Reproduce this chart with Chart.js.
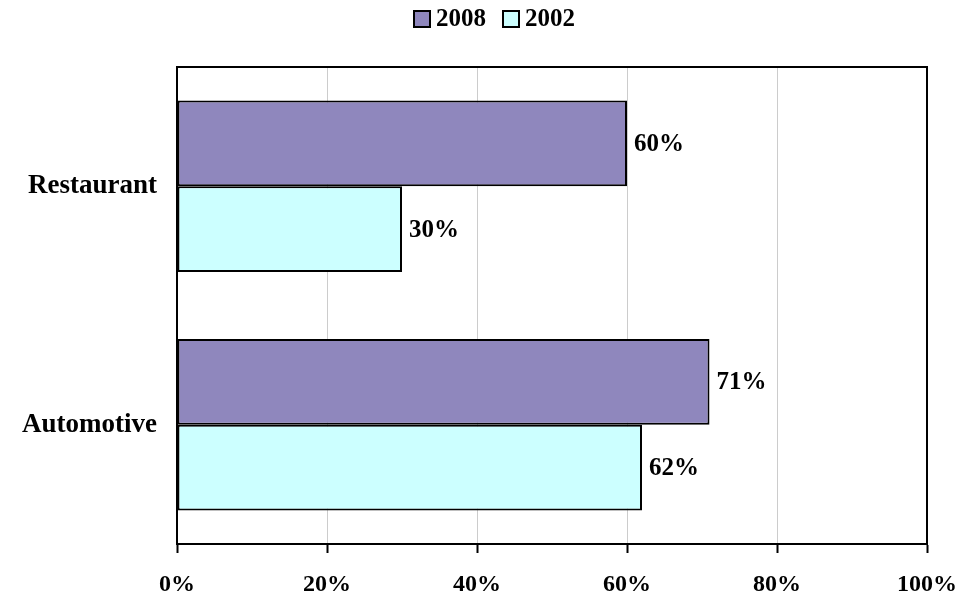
<!DOCTYPE html>
<html>
<head>
<meta charset="utf-8">
<script src="https://cdn.jsdelivr.net/npm/chart.js@4.4.0/dist/chart.umd.min.js"></script>
<style>
  html, body { margin: 0; padding: 0; background: #ffffff; }
  #wrap { width: 960px; height: 598px; position: relative; }
</style>
</head>
<body>
<div id="wrap"><canvas id="chart" width="960" height="598"></canvas></div>
<script>
// Share of businesses by sector, survey years 2008 and 2002 (percent)
const categories = ['Restaurant', 'Automotive'];
const series2008 = [60, 71];
const series2002 = [30, 62];
const xTicks = [0, 20, 40, 60, 80, 100];

const FONT = "'Liberation Serif', 'Times New Roman', serif";

// Draws the value (in %) just past the end of each bar
const valueLabels = {
  id: 'valueLabels',
  afterDatasetsDraw(chart) {
    const ctx = chart.ctx;
    ctx.save();
    ctx.font = 'bold 25px ' + FONT;
    ctx.fillStyle = '#000';
    ctx.textAlign = 'left';
    ctx.textBaseline = 'middle';
    chart.data.datasets.forEach((ds, i) => {
      chart.getDatasetMeta(i).data.forEach((bar, j) => {
        ctx.fillText(ds.data[j] + '%', bar.x + 7, bar.y + 1);
      });
    });
    ctx.restore();
  }
};

// Closes the plot area with a top and right border
const plotFrame = {
  id: 'plotFrame',
  afterDraw(chart) {
    const a = chart.chartArea;
    const ctx = chart.ctx;
    ctx.save();
    ctx.strokeStyle = '#000';
    ctx.lineWidth = 2;
    ctx.beginPath();
    ctx.moveTo(a.left, a.top);
    ctx.lineTo(a.right, a.top);
    ctx.lineTo(a.right, a.bottom);
    ctx.stroke();
    ctx.restore();
  }
};

// Compact legend row above the plot: swatch + series name for each dataset
const seriesLegend = {
  id: 'seriesLegend',
  afterDraw(chart) {
    const ctx = chart.ctx;
    ctx.save();
    ctx.font = 'bold 25px ' + FONT;
    ctx.textBaseline = 'middle';
    ctx.textAlign = 'left';
    let x = 414;
    const y = 19;
    chart.data.datasets.forEach(ds => {
      ctx.fillStyle = ds.backgroundColor;
      ctx.fillRect(x, y - 8, 16, 16);
      ctx.strokeStyle = '#000';
      ctx.lineWidth = 2;
      ctx.strokeRect(x, y - 8, 16, 16);
      ctx.fillStyle = '#000';
      ctx.fillText(ds.label, x + 22, y + 1);
      x += 22 + ctx.measureText(ds.label).width + 17;
    });
    ctx.restore();
  }
};

new Chart(document.getElementById('chart'), {
  type: 'bar',
  data: {
    labels: categories,
    datasets: [
      {
        label: '2008',
        data: series2008,
        backgroundColor: '#8f87bd',
        borderColor: '#000',
        borderWidth: 2,
        borderSkipped: false,
        categoryPercentage: 0.72,
        barPercentage: 1.0
      },
      {
        label: '2002',
        data: series2002,
        backgroundColor: '#ccffff',
        borderColor: '#000',
        borderWidth: 2,
        borderSkipped: false,
        categoryPercentage: 0.72,
        barPercentage: 1.0
      }
    ]
  },
  options: {
    indexAxis: 'y',
    responsive: false,
    animation: false,
    layout: { padding: { top: 67, right: 33, left: 0, bottom: 0 } },
    plugins: {
      legend: { display: false },
      tooltip: { enabled: false }
    },
    scales: {
      x: {
        min: 0,
        max: 100,
        afterBuildTicks(scale) {
          scale.ticks = xTicks.map(v => ({ value: v }));
        },
        afterFit(scale) {
          scale.height = 54;
          scale.paddingLeft = 0;
          scale.paddingRight = 0;
        },
        grid: {
          color: '#cccccc',
          lineWidth: 1,
          drawTicks: true,
          tickLength: 9,
          tickColor: '#000',
          tickWidth: 2
        },
        border: { display: true, color: '#000', width: 2 },
        ticks: {
          padding: 17,
          color: '#000',
          font: { family: FONT, size: 24, weight: 'bold' },
          callback: v => v + '%'
        }
      },
      y: {
        afterFit(scale) { scale.width = 177; },
        grid: { display: false, drawTicks: false },
        border: { display: true, color: '#000', width: 2 },
        ticks: {
          padding: 20,
          color: '#000',
          font: { family: FONT, size: 27, weight: 'bold' }
        }
      }
    }
  },
  plugins: [valueLabels, plotFrame, seriesLegend]
});
</script>
</body>
</html>
